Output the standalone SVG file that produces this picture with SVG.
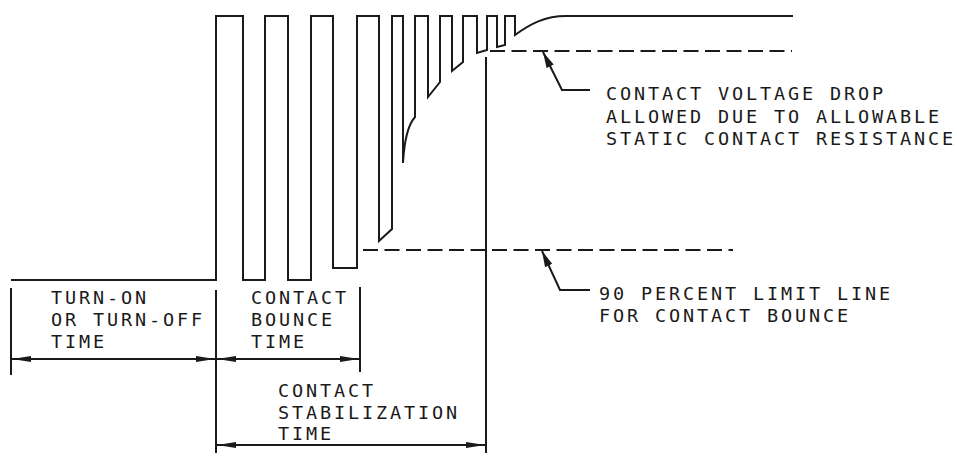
<svg xmlns="http://www.w3.org/2000/svg" width="957" height="457" viewBox="0 0 957 457">
<style>
.ln{fill:none;stroke:#1a1a1a;stroke-width:2;stroke-linejoin:miter}
.dash{fill:none;stroke:#1a1a1a;stroke-width:2;stroke-dasharray:15 6.5}
.t{font-family:"DejaVu Sans Mono","Liberation Mono",monospace;font-size:18.5px;letter-spacing:2.86px;fill:#1a1a1a}
</style>
<defs>
<marker id="dim" viewBox="0 0 19 6" refX="19" refY="3" markerWidth="19" markerHeight="6" markerUnits="userSpaceOnUse" orient="auto-start-reverse">
<path d="M0,0 L19,3 L0,6 Z" fill="#1a1a1a"/>
</marker>
<marker id="lead" viewBox="0 0 16 8" refX="16" refY="4" markerWidth="16" markerHeight="8" markerUnits="userSpaceOnUse" orient="auto">
<path d="M0,0 L16,4 L0,8 Z" fill="#1a1a1a"/>
</marker>
</defs>
<g id="waveform">
<path class="ln" d="M11,280 L216,280 L216,16 L243,16 L243,280 L265,280 L265,16 L288,16 L288,280 L311,280 L311,16 L333,16 L333,268 L357,268 L357,16 L379,16 L379,241 L392,229 L392,16 L403,16 L403,163 Q405,128 415,117 L415,16 L428,16 L428,97 L440,82 L440,16 L452,16 L452,71 L463,62 L463,16 L477,16 L477,53 L487,50 L487,16 L497,16 L497,47 L505,45 L505,16 L515,16 L515,35 C530,24 545,16 566,16 L793,16"/>
</g>
<g id="limit-lines">
<line class="dash" x1="490" y1="51" x2="792" y2="51"/>
<line class="dash" x1="363" y1="250" x2="733" y2="250"/>
</g>
<g id="connectors">
<line class="ln" x1="11" y1="288" x2="11" y2="375"/>
<line class="ln" x1="216" y1="290" x2="216" y2="453"/>
<line class="ln" x1="360" y1="287" x2="360" y2="372"/>
<line class="ln" x1="486" y1="57" x2="486" y2="453"/>
<line class="ln" x1="12" y1="359" x2="215" y2="359" marker-start="url(#dim)" marker-end="url(#dim)"/>
<line class="ln" x1="217" y1="359" x2="359" y2="359" marker-start="url(#dim)" marker-end="url(#dim)"/>
<line class="ln" x1="217" y1="445" x2="485" y2="445" marker-start="url(#dim)" marker-end="url(#dim)"/>
<path class="ln" d="M590,90 L562,90 L543,52" marker-end="url(#lead)"/>
<path class="ln" d="M590,290 L560,290 L542,251" marker-end="url(#lead)"/>
</g>
<g id="label-turn-on">
<text class="t" x="51" y="304">TURN-ON</text>
<text class="t" x="51" y="326">OR TURN-OFF</text>
<text class="t" x="51" y="348">TIME</text>
</g>
<g id="label-bounce">
<text class="t" x="251" y="304">CONTACT</text>
<text class="t" x="251" y="326">BOUNCE</text>
<text class="t" x="251" y="348">TIME</text>
</g>
<g id="label-stabilization">
<text class="t" x="278" y="397">CONTACT</text>
<text class="t" x="278" y="418.5">STABILIZATION</text>
<text class="t" x="278" y="440">TIME</text>
</g>
<g id="label-voltage-drop">
<text class="t" x="606" y="100">CONTACT VOLTAGE DROP</text>
<text class="t" x="606" y="122.5">ALLOWED DUE TO ALLOWABLE</text>
<text class="t" x="606" y="145">STATIC CONTACT RESISTANCE</text>
</g>
<g id="label-limit">
<text class="t" x="599" y="300">90 PERCENT LIMIT LINE</text>
<text class="t" x="599" y="322">FOR CONTACT BOUNCE</text>
</g>
</svg>
